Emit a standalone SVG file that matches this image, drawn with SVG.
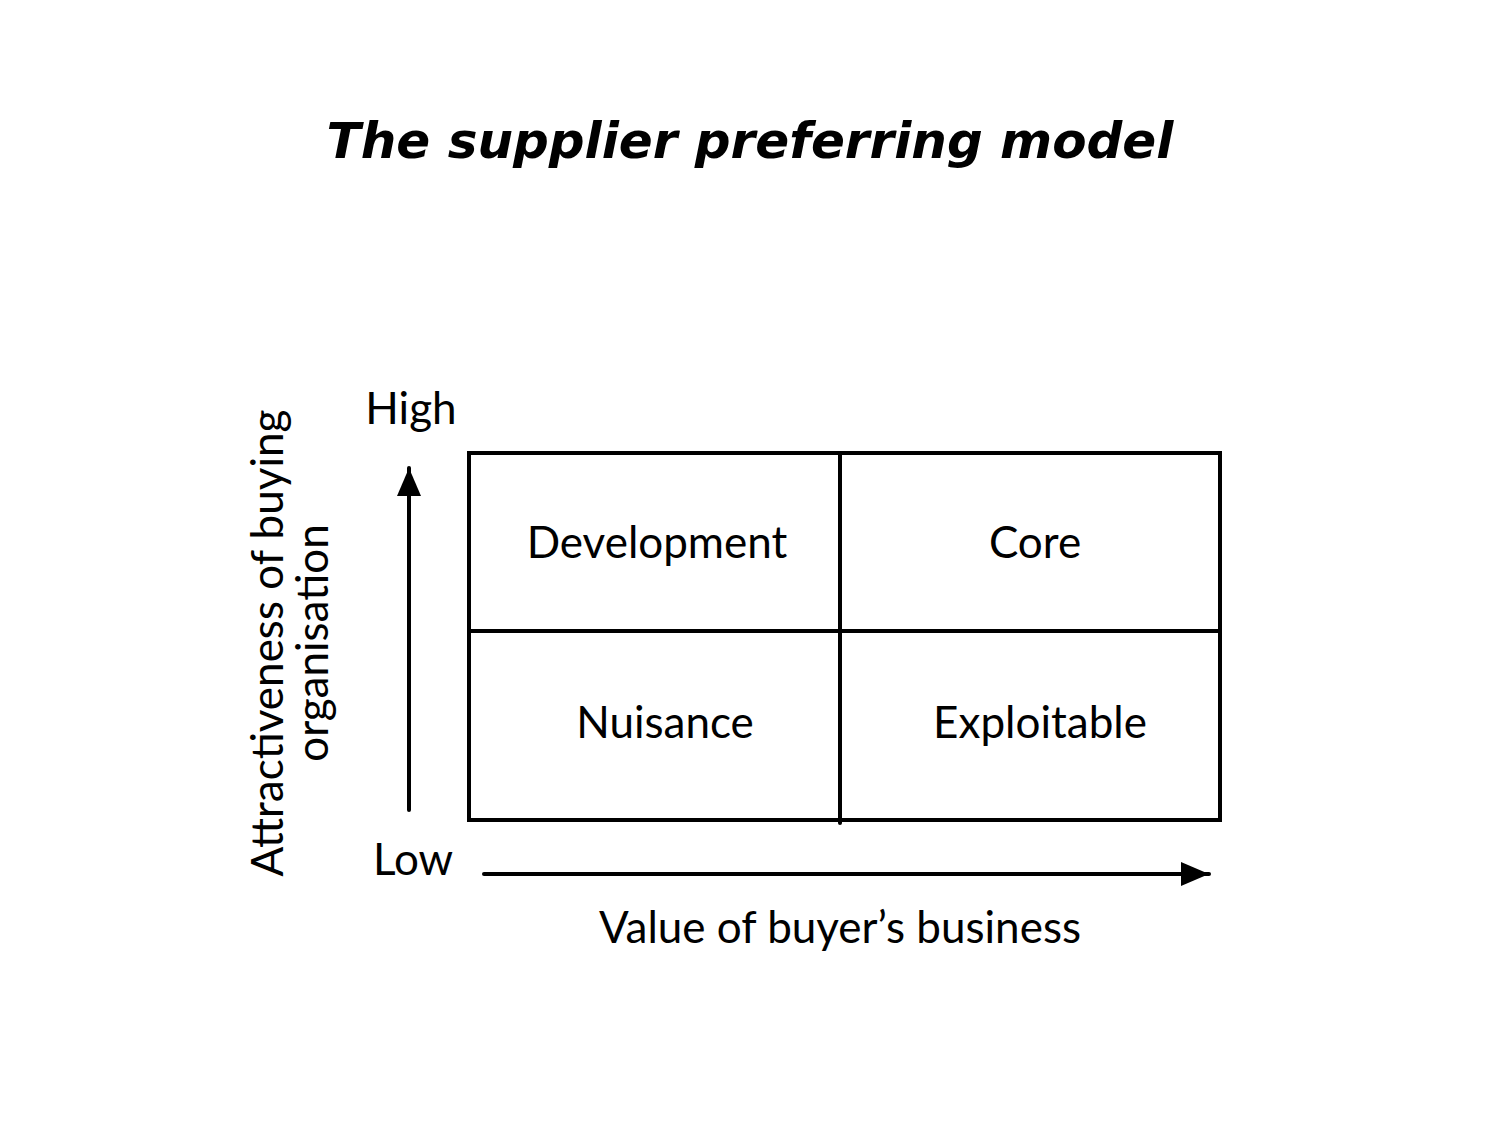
<svg xmlns="http://www.w3.org/2000/svg" width="1500" height="1125" viewBox="0 0 1500 1125">
<style>
.t{font-family:Lato,"Open Sans","Liberation Sans",sans-serif;font-size:44px;fill:#000}
.ttl{font-family:"DejaVu Sans",sans-serif;font-weight:bold;font-style:oblique;font-size:50px;fill:#000}
.ln{stroke:#000;stroke-width:4;fill:none;stroke-linecap:round}
</style>
<defs>
<marker id="ah" markerWidth="7" markerHeight="6" refX="7" refY="3" orient="auto" markerUnits="strokeWidth">
<path d="M0,0 L7,3 L0,6 Z" fill="#000"/>
</marker>
</defs>
<rect width="1500" height="1125" fill="#fff"/>
<text class="ttl" x="750" y="158" text-anchor="middle">The supplier preferring model</text>
<g id="grid">
<rect class="ln" x="469" y="453" width="751" height="367" stroke-linecap="square"/>
<line class="ln" x1="840" y1="453" x2="840" y2="823"/>
<line class="ln" x1="469" y1="631" x2="1220" y2="631"/>
</g>
<g id="development"><text class="t" x="657" y="558" text-anchor="middle">Development</text></g>
<g id="core"><text class="t" x="1035" y="558" text-anchor="middle">Core</text></g>
<g id="nuisance"><text class="t" x="665" y="738" text-anchor="middle">Nuisance</text></g>
<g id="exploitable"><text class="t" x="1040" y="738" text-anchor="middle">Exploitable</text></g>
<g id="connectors">
<line class="ln" x1="409" y1="810" x2="409" y2="468" marker-end="url(#ah)"/>
<line class="ln" x1="484" y1="874" x2="1209" y2="874" marker-end="url(#ah)"/>
</g>
<g id="labels">
<text class="t" x="411" y="424" text-anchor="middle">High</text>
<text class="t" x="413" y="875" text-anchor="middle">Low</text>
<text class="t" x="840" y="943" text-anchor="middle">Value of buyer’s business</text>
<text class="t" transform="translate(283,643) rotate(-90)" text-anchor="middle">Attractiveness of buying</text>
<text class="t" transform="translate(328,643) rotate(-90)" text-anchor="middle">organisation</text>
</g>
</svg>
